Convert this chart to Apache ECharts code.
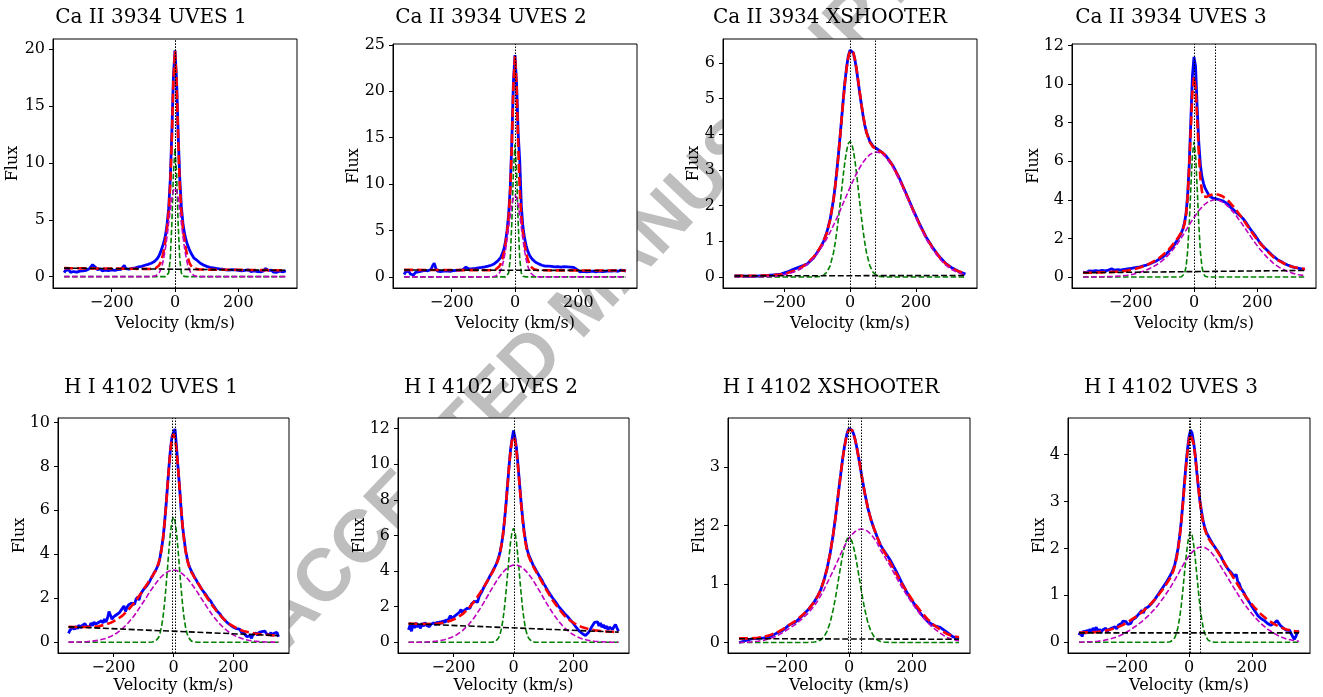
<!DOCTYPE html>
<html>
<head>
<meta charset="utf-8">
<title>Ca II 3934 and H I 4102 emission profiles</title>
<script src="https://cdn.jsdelivr.net/npm/echarts@6/dist/echarts.min.js"></script>
<style>
html, body { margin: 0; padding: 0; background: #fff; }
#stage { position: relative; width: 1323px; height: 697px; overflow: hidden; }
#watermark {
  position: absolute; left: 585px; top: 300px;
  transform: translate(-50%, -50%) rotate(-46.5deg);
  font: bold 74px 'Liberation Sans', Arial, sans-serif;
  color: #bebebe; white-space: nowrap; line-height: 1;
}
#chart { position: absolute; left: 0; top: 0; width: 1323px; height: 697px; }
</style>
</head>
<body>
<div id="stage">
  <div id="watermark">ACCEPTED MANUSCRIPT</div>
  <div id="chart"></div>
</div>
<script>
// ---------------------------------------------------------------------------
// Velocity sampling (km/s)
// ---------------------------------------------------------------------------
function velocityGrid(start, stop, step) {
  const out = [];
  for (let v = start; v <= stop; v += step) out.push(v);
  return out;
}
// observed spectra (UVES) are sampled every 5 km/s
const VEL_FINE = velocityGrid(-350, 350, 5);
// model components, and the smooth XSHOOTER spectra
const VEL_COARSE = [
  -350, -330, -310, -290, -270, -250, -230, -210, -190, -170, -150, -130, -110,
  -100, -90, -80, -70, -60, -50,
  -45, -40, -35, -30, -25, -20, -15, -10, -5, 0, 5, 10, 15, 20, 25, 30, 35, 40, 45,
  50, 60, 70, 80, 90, 100,
  110, 130, 150, 170, 190, 210, 230, 250, 270, 290, 310, 330, 350
];
const VEL_CONT = [-350, 350];
const VEL_TICKS = [-200, 0, 200];

// ---------------------------------------------------------------------------
// Ca II 3934 - UVES 1
// ---------------------------------------------------------------------------
const caUves1Flux = [
  0.35,0.55,0.42,0.60,0.38,0.52,0.45,0.62,0.40,0.55,
  0.48,0.60,0.50,0.66,0.55,0.62,0.70,0.85,1.05,1.10,
  0.80,0.62,0.55,0.68,0.50,0.62,0.58,0.70,0.52,0.66,
  0.60,0.72,0.55,0.68,0.62,0.75,0.65,0.82,0.98,0.70,
  0.78,0.65,0.80,0.72,0.88,0.78,0.92,0.85,0.98,0.90,
  1.05,1.00,1.12,1.08,1.20,1.18,1.30,1.32,1.45,1.62,
  1.85,2.20,2.60,3.05,3.65,4.60,6.00,8.50,12.6,17.6,
  19.9,17.3,12.5,8.7,6.2,4.7,3.8,3.2,2.75,2.40,
  2.10,1.85,1.62,1.50,1.42,1.30,1.18,1.12,1.02,0.98,
  0.90,0.95,0.82,0.90,0.78,0.85,0.72,0.80,0.68,0.78,
  0.65,0.72,0.60,0.70,0.58,0.72,0.62,0.78,0.60,0.68,
  0.55,0.65,0.50,0.62,0.55,0.48,0.60,0.52,0.45,0.58,
  0.50,0.62,0.45,0.55,0.42,0.58,0.50,0.72,0.85,0.55,
  0.45,0.58,0.40,0.52,0.38,0.55,0.48,0.60,0.42,0.58,
  0.50
];
const caUves1Fit = [
  0.75,0.74,0.74,0.73,0.73,0.72,0.72,0.71,0.70,0.70,0.69,0.69,0.68,
  0.68,0.68,0.67,0.69,0.76,1.00,
  1.28,1.71,2.35,3.19,4.28,5.72,8.08,12.1,17.3,19.85,17.2,12.1,8.07,5.71,4.27,3.18,2.34,1.70,1.27,
  0.98,0.73,0.66,0.63,0.63,0.62,
  0.62,0.61,0.61,0.60,0.60,0.59,0.58,0.58,0.57,0.57,0.56,0.56,0.55
];
const caUves1Narrow = [
  0,0,0,0,0,0,0,0,0,0,0,0,0,
  0,0,0,0,0,0,
  0,0,0,0,0.05,0.33,1.53,4.60,9.04,11.3,9.04,4.60,1.53,0.33,0.05,0,0,0,0,
  0,0,0,0,0,0,
  0,0,0,0,0,0,0,0,0,0,0,0,0
];
const caUves1Broad = [
  0,0,0,0,0,0,0,0,0,0,0,0,0,
  0,0,0,0.02,0.09,0.34,
  0.62,1.05,1.69,2.53,3.57,4.73,5.89,6.88,7.56,7.80,7.56,6.88,5.89,4.73,3.57,2.53,1.69,1.05,0.62,
  0.34,0.09,0.02,0,0,0,
  0,0,0,0,0,0,0,0,0,0,0,0,0
];
const caUves1Cont = [0.75, 0.55];
const caUves1Centres = [0, 2];

// ---------------------------------------------------------------------------
// Ca II 3934 - UVES 2
// ---------------------------------------------------------------------------
const caUves2Flux = [
  0.25,0.55,0.35,0.62,0.30,0.48,0.20,0.45,0.32,0.55,
  0.40,0.62,0.48,0.70,0.55,0.65,0.60,0.80,1.20,1.48,
  0.95,0.62,0.70,0.58,0.75,0.62,0.78,0.65,0.72,0.60,
  0.75,0.68,0.80,0.70,0.78,0.72,0.82,0.75,0.88,1.05,
  1.10,0.85,0.95,0.88,1.02,0.92,1.05,0.98,1.08,1.02,
  1.12,1.08,1.22,1.15,1.30,1.25,1.38,1.42,1.55,1.70,
  1.90,2.10,2.50,3.00,3.80,5.00,6.80,9.60,14.6,21.0,
  23.9,20.8,15.5,12.5,7.6,5.4,4.2,3.4,2.80,2.40,
  2.10,1.88,1.70,1.58,1.45,1.40,1.30,1.25,1.20,1.15,
  1.10,1.15,1.05,1.12,1.02,1.08,1.00,1.10,0.98,1.05,
  1.02,1.10,0.98,1.08,1.00,1.05,0.95,1.02,0.90,0.80,
  0.62,0.55,0.48,0.60,0.45,0.55,0.42,0.58,0.48,0.62,
  0.45,0.55,0.50,0.62,0.48,0.58,0.45,0.60,0.52,0.65,
  0.50,0.62,0.55,0.68,0.52,0.60,0.55,0.72,0.58,0.68,
  0.62
];
const caUves2Fit = [
  0.75,0.75,0.75,0.74,0.74,0.74,0.74,0.74,0.73,0.73,0.73,0.73,0.73,
  0.73,0.72,0.72,0.74,0.82,1.11,
  1.42,1.91,2.62,3.58,4.80,6.47,9.30,14.3,20.7,23.8,20.7,14.3,9.30,6.47,4.79,3.57,2.61,1.90,1.41,
  1.10,0.81,0.73,0.71,0.71,0.71,
  0.70,0.70,0.70,0.70,0.70,0.69,0.69,0.69,0.69,0.69,0.68,0.68,0.68
];
const caUves2Narrow = [
  0,0,0,0,0,0,0,0,0,0,0,0,0,
  0,0,0,0,0,0,
  0,0,0,0,0.06,0.41,1.93,5.86,11.4,14.3,11.4,5.86,1.93,0.41,0.06,0,0,0,0,
  0,0,0,0,0,0,
  0,0,0,0,0,0,0,0,0,0,0,0,0
];
const caUves2Broad = [
  0,0,0,0,0,0,0,0,0,0,0,0,0,
  0,0,0,0.02,0.10,0.39,
  0.70,1.19,1.90,2.86,4.03,5.34,6.64,7.76,8.53,8.80,8.53,7.76,6.64,5.34,4.03,2.86,1.90,1.19,0.70,
  0.39,0.10,0.02,0,0,0,
  0,0,0,0,0,0,0,0,0,0,0,0,0
];
const caUves2Cont = [0.75, 0.68];
const caUves2Centres = [0];

// ---------------------------------------------------------------------------
// Ca II 3934 - XSHOOTER
// ---------------------------------------------------------------------------
const caXsFlux = [
  0.03,0.03,0.02,0.02,0.03,0.04,0.06,0.08,0.14,0.22,0.29,0.36,0.54,
  0.68,0.82,1.00,1.26,1.62,2.17,
  2.54,2.96,3.44,3.95,4.48,5.01,5.50,5.90,6.20,6.36,6.38,6.28,6.08,5.80,5.46,5.12,4.80,4.50,4.25,
  4.06,3.80,3.66,3.60,3.54,3.47,
  3.38,3.12,2.76,2.34,1.91,1.50,1.13,0.83,0.58,0.38,0.25,0.15,0.08
];
const caXsFit = [
  0.03,0.03,0.03,0.03,0.04,0.04,0.05,0.07,0.11,0.17,0.25,0.38,0.56,
  0.69,0.83,1.00,1.24,1.61,2.16,
  2.53,2.95,3.43,3.94,4.47,5.00,5.48,5.87,6.17,6.34,6.38,6.29,6.10,5.82,5.49,5.15,4.82,4.52,4.26,
  4.05,3.78,3.64,3.59,3.53,3.47,
  3.38,3.11,2.75,2.33,1.90,1.49,1.12,0.82,0.57,0.37,0.24,0.15,0.09
];
const caXsNarrow = [
  0,0,0,0,0,0,0,0,0,0,0,0,0,
  0.004,0.015,0.05,0.13,0.32,0.68,
  0.95,1.27,1.64,2.05,2.47,2.89,3.26,3.55,3.74,3.80,3.74,3.55,3.26,2.89,2.47,2.05,1.64,1.27,0.95,
  0.68,0.32,0.13,0.05,0.015,0.004,
  0,0,0,0,0,0,0,0,0,0,0,0,0
];
const caXsBroad = [
  0.00,0.00,0.00,0.00,0.01,0.01,0.02,0.04,0.08,0.14,0.22,0.35,0.53,
  0.65,0.78,0.92,1.08,1.26,1.45,
  1.55,1.65,1.76,1.86,1.97,2.08,2.19,2.29,2.40,2.51,2.61,2.71,2.81,2.90,2.99,3.07,3.15,3.22,3.28,
  3.34,3.43,3.48,3.50,3.48,3.43,
  3.34,3.07,2.71,2.29,1.86,1.45,1.08,0.78,0.53,0.33,0.20,0.11,0.05
];
const caXsCont = [0.03, 0.04];
const caXsCentres = [0, 78];

// ---------------------------------------------------------------------------
// Ca II 3934 - UVES 3
// ---------------------------------------------------------------------------
const caUves3Flux = [
  0.25,0.30,0.22,0.28,0.32,0.24,0.30,0.26,0.33,0.25,
  0.30,0.27,0.34,0.28,0.32,0.30,0.36,0.31,0.42,0.50,
  0.35,0.30,0.38,0.33,0.36,0.32,0.40,0.35,0.42,0.38,
  0.44,0.40,0.47,0.43,0.50,0.46,0.53,0.50,0.58,0.55,
  0.62,0.60,0.68,0.66,0.75,0.73,0.82,0.85,0.92,0.95,
  1.02,1.08,1.15,1.22,1.32,1.40,1.50,1.58,1.72,1.82,
  1.98,2.12,2.28,2.50,2.80,3.30,4.25,5.85,8.10,10.4,
  11.4,10.9,8.80,7.00,5.85,5.20,4.85,4.60,4.45,4.30,
  4.18,4.12,4.08,4.02,4.05,3.98,4.00,3.92,3.95,3.88,
  3.85,3.78,3.75,3.62,3.60,3.48,3.45,3.32,3.30,3.18,
  3.10,3.02,2.95,2.80,2.70,2.55,2.48,2.32,2.25,2.10,
  1.98,1.85,1.80,1.65,1.60,1.48,1.42,1.32,1.25,1.15,
  1.10,1.02,0.98,0.88,0.90,0.80,0.78,0.70,0.68,0.62,
  0.60,0.56,0.58,0.50,0.52,0.47,0.50,0.44,0.46,0.40,
  0.43
];
const caUves3Fit = [
  0.22,0.22,0.23,0.24,0.25,0.27,0.29,0.33,0.40,0.49,0.61,0.78,0.98,
  1.11,1.26,1.42,1.61,1.82,2.05,
  2.17,2.31,2.47,2.74,3.24,4.18,5.75,7.74,9.55,10.36,9.79,8.23,6.48,5.15,4.43,4.17,4.11,4.15,4.19,
  4.23,4.28,4.29,4.25,4.18,4.06,
  3.92,3.54,3.10,2.62,2.14,1.72,1.35,1.04,0.82,0.65,0.53,0.46,0.41
];
const caUves3Narrow = [
  0,0,0,0,0,0,0,0,0,0,0,0,0,
  0,0,0,0,0,0,
  0,0.01,0.04,0.17,0.53,1.34,2.77,4.63,6.31,7.00,6.31,4.63,2.77,1.34,0.53,0.17,0.04,0.01,0,
  0,0,0,0,0,0,
  0,0,0,0,0,0,0,0,0,0,0,0,0
];
const caUves3Broad = [
  0.00,0.00,0.005,0.01,0.02,0.03,0.05,0.09,0.15,0.24,0.36,0.52,0.72,
  0.85,0.99,1.15,1.34,1.55,1.78,
  1.90,2.03,2.16,2.29,2.43,2.56,2.70,2.83,2.96,3.08,3.20,3.32,3.43,3.53,3.62,3.71,3.78,3.85,3.90,
  3.94,3.99,4.00,3.96,3.88,3.76,
  3.62,3.24,2.79,2.31,1.83,1.40,1.03,0.72,0.49,0.32,0.20,0.12,0.07
];
const caUves3Cont = [0.22, 0.34];
const caUves3Centres = [0, 66];

// ---------------------------------------------------------------------------
// H I 4102 - UVES 1
// ---------------------------------------------------------------------------
const hUves1Flux = [
  0.40,0.55,0.48,0.68,0.58,0.72,0.62,0.78,0.65,0.75,
  0.70,0.85,0.72,0.80,0.68,0.88,0.75,0.92,0.82,0.78,
  0.90,0.82,0.98,0.88,1.05,0.92,1.10,1.40,1.48,1.05,
  1.15,1.08,1.25,1.18,1.35,1.28,1.55,1.65,1.40,1.58,
  1.70,1.62,1.78,1.85,1.72,1.95,2.05,1.92,2.18,2.25,
  2.40,2.35,2.55,2.62,2.75,2.90,3.00,3.15,3.25,3.40,
  3.55,3.85,4.25,4.70,5.40,6.20,7.10,8.00,8.80,9.35,
  9.55,9.70,8.90,7.95,7.10,6.10,5.30,4.75,4.20,3.85,
  3.55,3.38,3.22,3.10,2.95,2.85,2.72,2.62,2.50,2.40,
  2.30,2.22,2.12,2.00,1.92,1.85,1.72,1.62,1.55,1.42,
  1.35,1.28,1.18,1.12,1.02,0.95,0.88,0.85,0.78,0.75,
  0.68,0.72,0.62,0.55,0.60,0.48,0.52,0.40,0.35,0.25,
  0.22,0.30,0.18,0.35,0.28,0.42,0.32,0.45,0.38,0.48,
  0.42,0.50,0.38,0.46,0.34,0.44,0.30,0.40,0.32,0.45,
  0.25
];
const hUves1Fit = [
  0.70,0.69,0.69,0.69,0.70,0.73,0.79,0.88,1.02,1.21,1.48,1.81,2.19,
  2.40,2.60,2.82,3.02,3.24,3.58,
  3.85,4.21,4.72,5.37,6.18,7.08,7.99,8.77,9.30,9.48,9.29,8.75,7.97,7.06,6.16,5.33,4.68,4.17,3.79,
  3.52,3.18,2.94,2.72,2.50,2.28,
  2.07,1.66,1.31,1.02,0.80,0.64,0.52,0.45,0.40,0.36,0.34,0.32,0.30
];
const hUves1Narrow = [
  0,0,0,0,0,0,0,0,0,0,0,0,0,
  0,0,0,0.01,0.05,0.21,
  0.40,0.70,1.14,1.74,2.51,3.37,4.24,5.00,5.52,5.70,5.52,5.00,4.24,3.37,2.51,1.74,1.14,0.70,0.40,
  0.21,0.05,0.01,0,0,0,
  0,0,0,0,0,0,0,0,0,0,0,0,0
];
const hUves1Broad = [
  0.003,0.006,0.013,0.025,0.049,0.089,0.154,0.256,0.407,0.617,0.893,1.23,1.63,
  1.84,2.05,2.27,2.47,2.66,2.84,
  2.92,2.99,3.06,3.11,3.16,3.20,3.24,3.26,3.27,3.28,3.27,3.26,3.24,3.20,3.16,3.11,3.06,2.99,2.92,
  2.84,2.66,2.47,2.27,2.05,1.84,
  1.63,1.23,0.893,0.617,0.407,0.256,0.154,0.089,0.049,0.025,0.013,0.006,0.003
];
const hUves1Cont = [0.70, 0.30];
const hUves1Centres = [-4, 5];

// ---------------------------------------------------------------------------
// H I 4102 - UVES 2
// ---------------------------------------------------------------------------
const hUves2Flux = [
  0.70,0.95,0.62,1.05,0.80,1.10,0.85,1.00,0.78,1.08,
  0.90,1.12,0.95,1.05,0.88,1.02,0.92,1.10,0.98,1.15,
  1.02,1.18,1.05,1.22,1.10,1.28,1.15,1.35,1.50,1.30,
  1.42,1.35,1.55,1.48,1.70,1.85,1.62,1.78,1.72,1.90,
  1.98,1.92,2.15,2.05,2.30,2.38,2.25,2.55,2.72,2.85,
  3.05,3.20,3.35,3.50,3.68,3.82,3.98,4.15,4.30,4.50,
  4.75,5.05,5.48,6.05,6.85,7.75,8.80,9.85,10.8,11.4,
  11.9,11.5,10.9,9.95,8.95,7.95,7.05,6.30,5.70,5.25,
  4.95,4.75,4.55,4.35,4.20,4.05,3.95,3.75,3.62,3.50,
  3.30,3.18,3.02,2.88,2.75,2.62,2.50,2.42,2.28,2.15,
  2.02,1.95,1.82,1.75,1.62,1.55,1.45,1.38,1.25,1.15,
  1.05,0.95,0.82,0.75,0.62,0.55,0.48,0.42,0.38,0.45,
  0.55,0.68,0.85,0.95,1.12,1.02,1.15,0.92,1.08,0.85,
  0.98,0.78,0.92,0.70,0.85,0.95,0.72,0.88,1.00,0.80,
  0.62
];
const hUves2Fit = [
  1.05,1.04,1.03,1.03,1.04,1.06,1.11,1.21,1.36,1.58,1.90,2.31,2.81,
  3.08,3.36,3.66,3.94,4.26,4.69,
  5.02,5.46,6.05,6.82,7.76,8.79,9.82,10.72,11.33,11.55,11.36,10.75,9.88,8.87,7.85,6.94,6.18,5.59,5.17,
  4.86,4.44,4.12,3.83,3.54,3.23,
  2.94,2.38,1.90,1.50,1.21,0.99,0.84,0.75,0.68,0.64,0.61,0.59,0.57
];
const hUves2Narrow = [
  0,0,0,0,0,0,0,0,0,0,0,0,0,
  0,0,0,0.01,0.056,0.24,
  0.45,0.78,1.28,1.96,2.82,3.78,4.76,5.61,6.20,6.40,6.20,5.61,4.76,3.78,2.82,1.96,1.28,0.78,0.45,
  0.24,0.056,0.01,0,0,0,
  0,0,0,0,0,0,0,0,0,0,0,0,0
];
const hUves2Broad = [
  0.002,0.004,0.009,0.02,0.041,0.079,0.144,0.251,0.416,0.657,0.987,1.41,1.92,
  2.20,2.49,2.79,3.07,3.35,3.61,
  3.73,3.84,3.94,4.03,4.11,4.19,4.24,4.29,4.32,4.34,4.35,4.34,4.32,4.29,4.24,4.19,4.11,4.03,3.94,
  3.84,3.61,3.35,3.07,2.79,2.49,
  2.20,1.66,1.19,0.81,0.525,0.325,0.191,0.107,0.057,0.029,0.014,0.006,0.003
];
const hUves2Cont = [1.05, 0.57];
const hUves2Centres = [2];

// ---------------------------------------------------------------------------
// H I 4102 - XSHOOTER
// ---------------------------------------------------------------------------
const hXsFlux = [
  0.00,0.03,0.06,0.07,0.08,0.10,0.16,0.21,0.30,0.35,0.45,0.56,0.70,
  0.79,0.90,1.06,1.26,1.52,1.86,
  2.06,2.27,2.50,2.72,2.94,3.15,3.33,3.48,3.60,3.66,3.66,3.63,3.56,3.46,3.33,3.18,3.03,2.86,2.71,
  2.56,2.30,2.10,1.94,1.80,1.67,
  1.58,1.42,1.22,1.00,0.80,0.64,0.48,0.36,0.29,0.26,0.18,0.10,0.06
];
const hXsFit = [
  0.07,0.07,0.07,0.08,0.10,0.13,0.17,0.23,0.30,0.37,0.46,0.56,0.70,
  0.79,0.90,1.06,1.26,1.52,1.86,
  2.06,2.27,2.50,2.72,2.94,3.15,3.32,3.47,3.58,3.64,3.65,3.63,3.56,3.46,3.33,3.18,3.03,2.86,2.71,
  2.56,2.30,2.10,1.94,1.80,1.66,
  1.57,1.38,1.18,0.99,0.82,0.66,0.52,0.40,0.30,0.22,0.15,0.11,0.09
];
const hXsNarrow = [
  0,0,0,0,0,0,0,0,0,0,0,0.001,0.007,
  0.018,0.044,0.096,0.19,0.34,0.57,
  0.71,0.86,1.03,1.19,1.35,1.50,1.62,1.72,1.78,1.80,1.78,1.72,1.62,1.50,1.35,1.19,1.03,0.86,0.71,
  0.57,0.34,0.19,0.096,0.044,0.018,
  0.007,0.001,0,0,0,0,0,0,0,0,0,0,0
];
const hXsBroad = [
  0.00,0.005,0.01,0.02,0.04,0.07,0.11,0.17,0.24,0.31,0.40,0.50,0.63,
  0.71,0.80,0.90,1.01,1.12,1.23,
  1.29,1.35,1.41,1.47,1.53,1.59,1.64,1.69,1.74,1.78,1.81,1.85,1.88,1.90,1.92,1.93,1.94,1.94,1.94,
  1.93,1.90,1.85,1.78,1.70,1.58,
  1.50,1.32,1.12,0.93,0.76,0.60,0.46,0.34,0.24,0.16,0.09,0.05,0.03
];
const hXsCont = [0.065, 0.055];
const hXsCentres = [-3, 3, 40];

// ---------------------------------------------------------------------------
// H I 4102 - UVES 3
// ---------------------------------------------------------------------------
const hUves3Flux = [
  0.15,0.22,0.12,0.25,0.18,0.26,0.20,0.28,0.22,0.30,
  0.25,0.32,0.22,0.28,0.20,0.26,0.24,0.30,0.22,0.27,
  0.24,0.30,0.26,0.33,0.28,0.36,0.32,0.40,0.45,0.42,
  0.44,0.38,0.42,0.40,0.48,0.45,0.52,0.55,0.60,0.62,
  0.68,0.62,0.72,0.68,0.75,0.78,0.82,0.86,0.90,0.95,
  1.00,1.05,1.10,1.15,1.18,1.25,1.30,1.36,1.42,1.48,
  1.56,1.66,1.82,2.00,2.25,2.55,2.92,3.35,3.75,4.10,
  4.38,4.52,4.45,4.25,3.98,3.62,3.30,3.00,2.78,2.58,
  2.45,2.35,2.28,2.22,2.16,2.10,2.06,2.00,1.96,1.90,
  1.85,1.78,1.75,1.65,1.62,1.55,1.58,1.48,1.50,1.40,
  1.45,1.30,1.25,1.15,1.10,1.05,0.98,0.92,0.88,0.82,
  0.76,0.72,0.66,0.62,0.56,0.54,0.50,0.48,0.46,0.42,
  0.40,0.38,0.36,0.34,0.40,0.38,0.46,0.42,0.36,0.32,
  0.30,0.27,0.25,0.22,0.26,0.18,0.20,0.06,0.12,0.22,
  0.24
];
const hUves3Fit = [
  0.20,0.21,0.21,0.22,0.24,0.27,0.31,0.37,0.45,0.54,0.64,0.76,0.90,
  0.98,1.07,1.16,1.26,1.37,1.52,
  1.63,1.78,1.97,2.22,2.53,2.91,3.32,3.71,4.06,4.32,4.43,4.40,4.22,3.95,3.63,3.30,2.99,2.74,2.55,
  2.41,2.23,2.13,2.04,1.94,1.83,
  1.72,1.50,1.28,1.07,0.89,0.73,0.59,0.48,0.39,0.32,0.27,0.24,0.22
];
const hUves3Narrow = [
  0,0,0,0,0,0,0,0,0,0,0,0,0,
  0,0,0,0,0.01,0.05,
  0.10,0.19,0.32,0.51,0.76,1.08,1.43,1.77,2.07,2.28,2.35,2.28,2.07,1.77,1.43,1.08,0.76,0.51,0.32,
  0.19,0.05,0.01,0,0,0,
  0,0,0,0,0,0,0,0,0,0,0,0,0
];
const hUves3Broad = [
  0.00,0.005,0.01,0.02,0.04,0.07,0.11,0.17,0.25,0.34,0.44,0.56,0.70,
  0.78,0.87,0.96,1.06,1.16,1.27,
  1.33,1.39,1.45,1.51,1.57,1.63,1.69,1.74,1.79,1.84,1.88,1.92,1.95,1.98,2.00,2.02,2.03,2.03,2.03,
  2.02,1.98,1.92,1.84,1.74,1.63,
  1.52,1.30,1.08,0.87,0.69,0.53,0.39,0.28,0.19,0.12,0.07,0.04,0.02
];
const hUves3Cont = [0.20, 0.20];
const hUves3Centres = [0, 5, 36];

// ---------------------------------------------------------------------------
// Panel definitions
// ---------------------------------------------------------------------------
const PANELS = [
  { title: 'Ca II 3934 UVES 1',   fluxVel: VEL_FINE,   flux: caUves1Flux, fit: caUves1Fit, narrow: caUves1Narrow, broad: caUves1Broad, cont: caUves1Cont, centres: caUves1Centres, yRange: [-1.0, 20.9],  yTicks: [0, 5, 10, 15, 20] },
  { title: 'Ca II 3934 UVES 2',   fluxVel: VEL_FINE,   flux: caUves2Flux, fit: caUves2Fit, narrow: caUves2Narrow, broad: caUves2Broad, cont: caUves2Cont, centres: caUves2Centres, yRange: [-1.2, 25.1],  yTicks: [0, 5, 10, 15, 20, 25] },
  { title: 'Ca II 3934 XSHOOTER', fluxVel: VEL_COARSE, flux: caXsFlux,    fit: caXsFit,    narrow: caXsNarrow,    broad: caXsBroad,    cont: caXsCont,    centres: caXsCentres,    yRange: [-0.31, 6.67], yTicks: [0, 1, 2, 3, 4, 5, 6] },
  { title: 'Ca II 3934 UVES 3',   fluxVel: VEL_FINE,   flux: caUves3Flux, fit: caUves3Fit, narrow: caUves3Narrow, broad: caUves3Broad, cont: caUves3Cont, centres: caUves3Centres, yRange: [-0.57, 12.07], yTicks: [0, 2, 4, 6, 8, 10, 12] },
  { title: 'H I 4102 UVES 1',     fluxVel: VEL_FINE,   flux: hUves1Flux,  fit: hUves1Fit,  narrow: hUves1Narrow,  broad: hUves1Broad,  cont: hUves1Cont,  centres: hUves1Centres,  yRange: [-0.49, 10.2], yTicks: [0, 2, 4, 6, 8, 10] },
  { title: 'H I 4102 UVES 2',     fluxVel: VEL_FINE,   flux: hUves2Flux,  fit: hUves2Fit,  narrow: hUves2Narrow,  broad: hUves2Broad,  cont: hUves2Cont,  centres: hUves2Centres,  yRange: [-0.6, 12.6],  yTicks: [0, 2, 4, 6, 8, 10, 12] },
  { title: 'H I 4102 XSHOOTER',   fluxVel: VEL_COARSE, flux: hXsFlux,     fit: hXsFit,     narrow: hXsNarrow,     broad: hXsBroad,     cont: hXsCont,     centres: hXsCentres,     yRange: [-0.18, 3.84], yTicks: [0, 1, 2, 3] },
  { title: 'H I 4102 UVES 3',     fluxVel: VEL_FINE,   flux: hUves3Flux,  fit: hUves3Fit,  narrow: hUves3Narrow,  broad: hUves3Broad,  cont: hUves3Cont,  centres: hUves3Centres,  yRange: [-0.23, 4.78], yTicks: [0, 1, 2, 3, 4] }
];

// plot boxes: [left, top, width, height] in px
const BOXES = [
  [53, 39, 244, 249], [393, 44, 244, 244], [723, 39, 254, 249], [1072, 44, 244, 244],
  [58, 418, 231, 235], [398, 418, 231, 235], [728, 418, 242, 235], [1068, 418, 242, 235]
];
const TITLE_AT = [[151, 18], [491, 18], [830, 18], [1171, 18], [151, 388], [491, 388], [831, 388], [1171, 388]];
const YNAME_X = [13, 353.5, 693.5, 1033.5, 20, 360, 700, 1040];
const XNAME_Y = [323.5, 323.5, 323.5, 323.5, 685.5, 685.5, 685.5, 685.5];

const SERIF = "'DejaVu Serif', 'Liberation Serif', serif";
const X_RANGE = [-385, 385];

function pairs(xs, ys) {
  const n = Math.min(xs.length, ys.length);
  const out = [];
  for (let i = 0; i < n; i++) out.push([xs[i], ys[i]]);
  return out;
}
const tickText = v => (v < 0 ? '\u2212' + Math.abs(v) : String(v));

const grids = [], xAxes = [], yAxes = [], series = [], graphics = [];

PANELS.forEach((p, i) => {
  const [left, top, width, height] = BOXES[i];
  grids.push({ left, top, width, height, show: true, backgroundColor: '#ffffff',
               borderColor: '#000', borderWidth: 1, containLabel: false, outerBoundsMode: 'none' });

  const axisCommon = {
    gridIndex: i, type: 'value',
    axisLine: { show: true, onZero: false, lineStyle: { color: '#000', width: 1 } },
    splitLine: { show: false },
    axisLabel: { fontFamily: SERIF, fontSize: 16, color: '#000', formatter: tickText },
    axisTick: { show: true, inside: false, length: 4, lineStyle: { color: '#000', width: 1 } }
  };
  xAxes.push(Object.assign({}, axisCommon, {
    min: X_RANGE[0], max: X_RANGE[1],
    axisLabel: Object.assign({}, axisCommon.axisLabel, { customValues: VEL_TICKS, margin: 7 }),
    axisTick: Object.assign({}, axisCommon.axisTick, { customValues: VEL_TICKS })
  }));
  yAxes.push(Object.assign({}, axisCommon, {
    min: p.yRange[0], max: p.yRange[1],
    axisLabel: Object.assign({}, axisCommon.axisLabel, { customValues: p.yTicks, margin: 8 }),
    axisTick: Object.assign({}, axisCommon.axisTick, { customValues: p.yTicks })
  }));

  const base = { type: 'line', xAxisIndex: i, yAxisIndex: i, showSymbol: false, symbol: 'none',
                 silent: true, animation: false, clip: true };
  series.push(Object.assign({}, base, { name: 'observed', data: pairs(p.fluxVel, p.flux),
    lineStyle: { color: '#0000ff', width: 2.8 } }));
  series.push(Object.assign({}, base, { name: 'fit', data: pairs(VEL_COARSE, p.fit),
    lineStyle: { color: '#ff0000', width: 2.6, type: [9, 4] } }));
  series.push(Object.assign({}, base, { name: 'narrow', data: pairs(VEL_COARSE, p.narrow),
    lineStyle: { color: '#008000', width: 1.6, type: [5.5, 2.5] } }));
  series.push(Object.assign({}, base, { name: 'broad', data: pairs(VEL_COARSE, p.broad),
    lineStyle: { color: '#bf00bf', width: 1.6, type: [5.5, 2.5] } }));
  series.push(Object.assign({}, base, { name: 'continuum', data: pairs(VEL_CONT, p.cont),
    lineStyle: { color: '#000000', width: 1.6, type: [6, 2.6] },
    markLine: { silent: true, symbol: ['none', 'none'], animation: false, label: { show: false },
      lineStyle: { color: '#000', width: 1, type: [1.5, 1.5] },
      data: p.centres.map(v => ({ xAxis: v })) } }));

  // panel title and axis names
  graphics.push({ type: 'text', z: 10, x: TITLE_AT[i][0], y: TITLE_AT[i][1],
    style: { text: p.title, fill: '#000', fontSize: 20, fontFamily: SERIF, align: 'center', verticalAlign: 'middle' } });
  graphics.push({ type: 'text', z: 10, x: left + width / 2, y: XNAME_Y[i],
    style: { text: 'Velocity (km/s)', fill: '#000', fontSize: 16, fontFamily: SERIF, align: 'center', verticalAlign: 'middle' } });
  graphics.push({ type: 'text', z: 10, x: YNAME_X[i], y: top + height / 2, rotation: Math.PI / 2,
    style: { text: 'Flux', fill: '#000', fontSize: 16, fontFamily: SERIF, align: 'center', verticalAlign: 'middle' } });
});

const chart = echarts.init(document.getElementById('chart'), null, { renderer: 'canvas' });
chart.setOption({
  backgroundColor: 'transparent',
  animation: false,
  grid: grids,
  xAxis: xAxes,
  yAxis: yAxes,
  series: series,
  graphic: { elements: graphics }
});
</script>
</body>
</html>
